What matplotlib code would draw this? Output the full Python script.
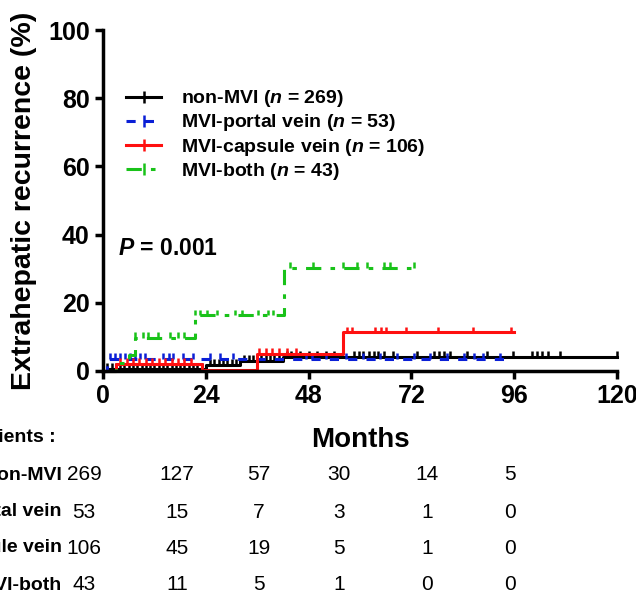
import numpy as np
import matplotlib.pyplot as plt
from matplotlib.lines import Line2D

plt.rcParams['font.family'] = ['Liberation Sans', 'DejaVu Sans']
plt.rcParams['mathtext.fontset'] = 'custom'
plt.rcParams['mathtext.it'] = 'Liberation Sans:bold:italic'
plt.rcParams['mathtext.rm'] = 'Liberation Sans:bold'

groups = ['non-MVI', 'MVI-portal vein', 'MVI-capsule vein', 'MVI-both']
group_n = [269, 53, 106, 43]
colors = ['black', '#0a1fd6', '#ff1010', '#19c219']
styles = ['-', (0, (3, 3)), '-', (0, (5, 3, 1.5, 3))]

# step curves: event times (months) and cumulative recurrence (%)
black_t = [0, 1, 24, 32, 42]
black_v = [0, 0.6, 1.8, 3.0, 4.2]
black_end = 120
blue_t = [0, 1]
blue_v = [0, 3.5]
blue_end = 94
red_t = [0, 3, 23, 36, 56]
red_v = [0, 2.0, 0.4, 5.0, 11.3]
red_end = 96
green_t = [0, 3, 6, 7.5, 21.5, 42.3]
green_v = [0, 2.3, 4.7, 9.7, 16.3, 30.2]
green_end = 73

# censored observations (months)
black_cens = [1, 2, 3, 4, 5, 6, 7, 8, 9, 10, 11, 12, 13, 14, 15, 16, 17, 18, 19, 20,
              21, 22, 23, 25, 26, 27, 28, 29, 30, 31, 33, 34, 35, 36, 37, 38, 39, 40,
              41, 43, 44, 46, 48, 50, 52, 54, 58.5, 59.7, 60.8, 62, 63.2, 64.3, 65.5,
              67.8, 73.3, 77.2, 78.4, 79.5, 81.1, 85, 89.6, 95.8, 100.2, 101.3, 102.5,
              104, 106.8, 120]
blue_cens = [1.6, 2.8, 4, 5.1, 6.3, 7.5, 8.6, 9.8, 14.1, 15.3, 16.4, 18.7, 21, 24.9,
             27.3, 30.4, 47.3, 48.9, 52, 56.7, 60.8, 64.7, 68.6, 72.5, 76.4, 80.3,
             84.2, 86.5, 88.8, 92.7]
red_cens = [4, 5.5, 7, 8.5, 10, 11.5, 13, 14.5, 16, 17.5, 19, 20.5, 36.4, 38, 39.5,
            41, 43, 45, 57, 58.2, 63.6, 64.8, 66, 70.7, 78.1, 86.3, 95.3]
green_cens = [7.5, 9.4, 10.6, 12.9, 15.7, 17.6, 18.8, 21.5, 22.7, 24.2, 26.6, 30.8,
              32.4, 36.3, 38.6, 39.8, 43.7, 49.1, 56.1, 59.3, 61.6, 65.5, 67, 72.5]

curves = [(black_t, black_v, black_end, black_cens),
          (blue_t, blue_v, blue_end, blue_cens),
          (red_t, red_v, red_end, red_cens),
          (green_t, green_v, green_end, green_cens)]

# number at risk
risk_times = [0, 24, 48, 72, 96, 120]
risk_nonmvi = [269, 127, 57, 30, 14, 5]
risk_portal = [53, 15, 7, 3, 1, 0]
risk_capsule = [106, 45, 19, 5, 1, 0]
risk_both = [43, 11, 5, 1, 0, 0]

W, H = 636, 593
fig = plt.figure(figsize=(W / 100, H / 100), dpi=100)
ax = fig.add_axes([103 / W, 1 - 371 / H, 514 / W, 341 / H])

for (t, v, end, cens), c, ls in zip(curves, colors, styles):
    tt = list(t) + [end]
    vv = list(v) + [v[-1]]
    ax.step(tt, vv, where='post', color=c, linestyle=ls, linewidth=2.2, clip_on=False)
    cy = np.array(v)[np.searchsorted(t, cens, side='right') - 1]
    ax.vlines(cens, cy, cy + 1.7, color=c, linewidth=1.8, clip_on=False)

ax.set_xlim(0, 120)
ax.set_ylim(0, 100)
ax.set_xticks([0, 24, 48, 72, 96, 120])
ax.set_yticks([0, 20, 40, 60, 80, 100])
for s in ['top', 'right']:
    ax.spines[s].set_visible(False)
for s in ['left', 'bottom']:
    ax.spines[s].set_linewidth(2.5)
ax.tick_params(direction='out', length=6, width=2.5, labelsize=18, pad=3.5)
for lab in ax.get_xticklabels() + ax.get_yticklabels():
    lab.set_fontweight('bold')
ax.set_ylabel('Extrahepatic recurrence (%)', fontsize=20.5, fontweight='bold')
ax.yaxis.set_label_coords(-0.128, 0.5)

ax.text(3.5, 36, r'$P$ = 0.001', fontsize=16.5, fontweight='bold', va='center')

handles = [Line2D([], [], color=c, linestyle=ls, linewidth=2.2, marker='|',
                  markersize=9, markeredgewidth=1.8) for c, ls in zip(colors, styles)]
labels = [g + r' ($n$ = ' + str(n) + ')' for g, n in zip(groups, group_n)]
ax.legend(handles, labels, loc='upper left', bbox_to_anchor=(0.045, 0.829),
          frameon=False, numpoints=1, handlelength=1.8, handletextpad=1.0,
          labelspacing=0.16, borderpad=0, borderaxespad=0,
          prop={'weight': 'bold', 'size': 14})

fig.text(360 / W, 1 - 440 / H, 'Months', fontsize=20, fontweight='bold',
         ha='center', va='center')

fig.text(56 / W, 1 - 438 / H, 'Number of patients :', fontsize=14, fontweight='bold',
         ha='right', va='center')
col_x = [84, 177, 259, 339, 427, 510]
row_y = [475, 512, 548, 585]
rows = [risk_nonmvi, risk_portal, risk_capsule, risk_both]
for g, counts, ry in zip(groups, rows, row_y):
    fig.text(62 / W, 1 - ry / H, g, fontsize=14, fontweight='bold', ha='right', va='center')
    for cx, n in zip(col_x, counts):
        fig.text(cx / W, 1 - ry / H, str(n), fontsize=15, ha='center', va='center')

fig.savefig('out.png', dpi=100)
